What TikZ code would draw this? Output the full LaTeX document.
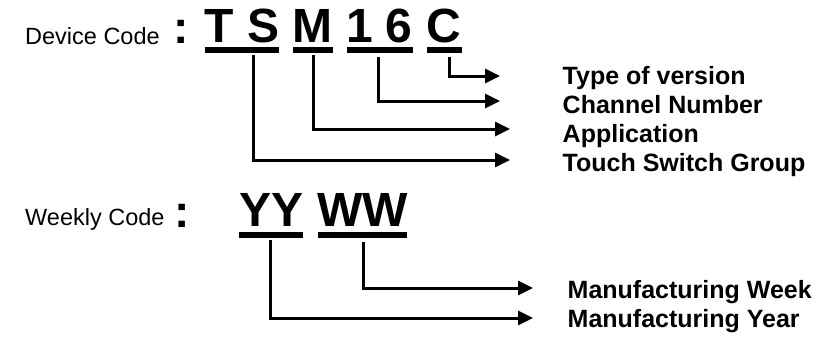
\documentclass[tikz,border=0pt]{standalone}
\usepackage{fontspec}
\setmainfont{Liberation Sans}
\usetikzlibrary{arrows.meta}
\begin{document}
\begin{tikzpicture}[x=1pt,y=-1pt,
  lbl/.style={font=\fontsize{23.5}{27}\selectfont, anchor=base west, inner sep=0pt},
  colon/.style={font=\fontsize{46}{50}\selectfont\bfseries, anchor=base west, inner sep=0pt},
  code/.style={font=\fontsize{48}{52}\selectfont\bfseries, anchor=base west, inner sep=0pt},
  bar/.style={fill=black, draw=none, inner sep=0pt, minimum height=6pt, anchor=north west},
  desc/.style={font=\fontsize{25}{28}\selectfont\bfseries, anchor=base west, inner sep=0pt},
  conn/.style={line width=3pt, -{Triangle[length=15pt,width=14pt]}}
]
\useasboundingbox (0,0) rectangle (831,338);

% Device code
\node[lbl] (dc) at (25,44) {Device Code};
\node[colon] (dcol) at (173,43) {:};
\node[code] (cTS) at (204.5,42) {T S};
\node[code] (cM) at (292.5,42) {M};
\node[code] (c16) at (345.8,42) {1 6};
\node[code] (cC) at (425.8,42) {C};
\node[bar, minimum width=74pt] (bTS) at (205,47) {};
\node[bar, minimum width=40pt] (bM) at (293,47) {};
\node[bar, minimum width=66pt] (b16) at (347,47) {};
\node[bar, minimum width=35pt] (bC) at (427,47) {};

\node[desc] (lC) at (562.5,84) {Type of version};
\node[desc] (l16) at (562.5,113) {Channel Number};
\node[desc] (lM) at (562.5,142) {Application};
\node[desc] (lTS) at (562.5,171) {Touch Switch Group};

\coordinate (aC) at (500,76);
\coordinate (a16) at (500,101);
\coordinate (aM) at (510,129);
\coordinate (aTS) at (510,160);

\draw[conn] ([xshift=4.5pt,yshift=-4pt]bC.south) |- (aC);
\draw[conn] ([xshift=-2pt,yshift=-4pt]b16.south) |- (a16);
\draw[conn] ([yshift=-2pt]bM.south) |- (aM);
\draw[conn] ([xshift=11pt,yshift=-2pt]bTS.south) |- (aTS);

% Weekly code
\node[lbl] (wc) at (25,225) {Weekly Code};
\node[colon] (wcol) at (174,227) {:};
\node[code] (cY) at (239,226) {YY};
\node[code] (cW) at (317,226) {WW};
\node[bar, minimum width=64pt] (bY) at (239,232) {};
\node[bar, minimum width=89pt] (bW) at (318,232) {};

\node[desc] (lW) at (567.5,298) {Manufacturing Week};
\node[desc] (lY) at (567.5,327) {Manufacturing Year};

\coordinate (aW) at (533,288);
\coordinate (aY) at (533,318);

\draw[conn] ([xshift=0.5pt,yshift=-4pt]bW.south) |- (aW);
\draw[conn] ([xshift=-1pt,yshift=-2pt]bY.south) |- (aY);
\end{tikzpicture}
\end{document}
